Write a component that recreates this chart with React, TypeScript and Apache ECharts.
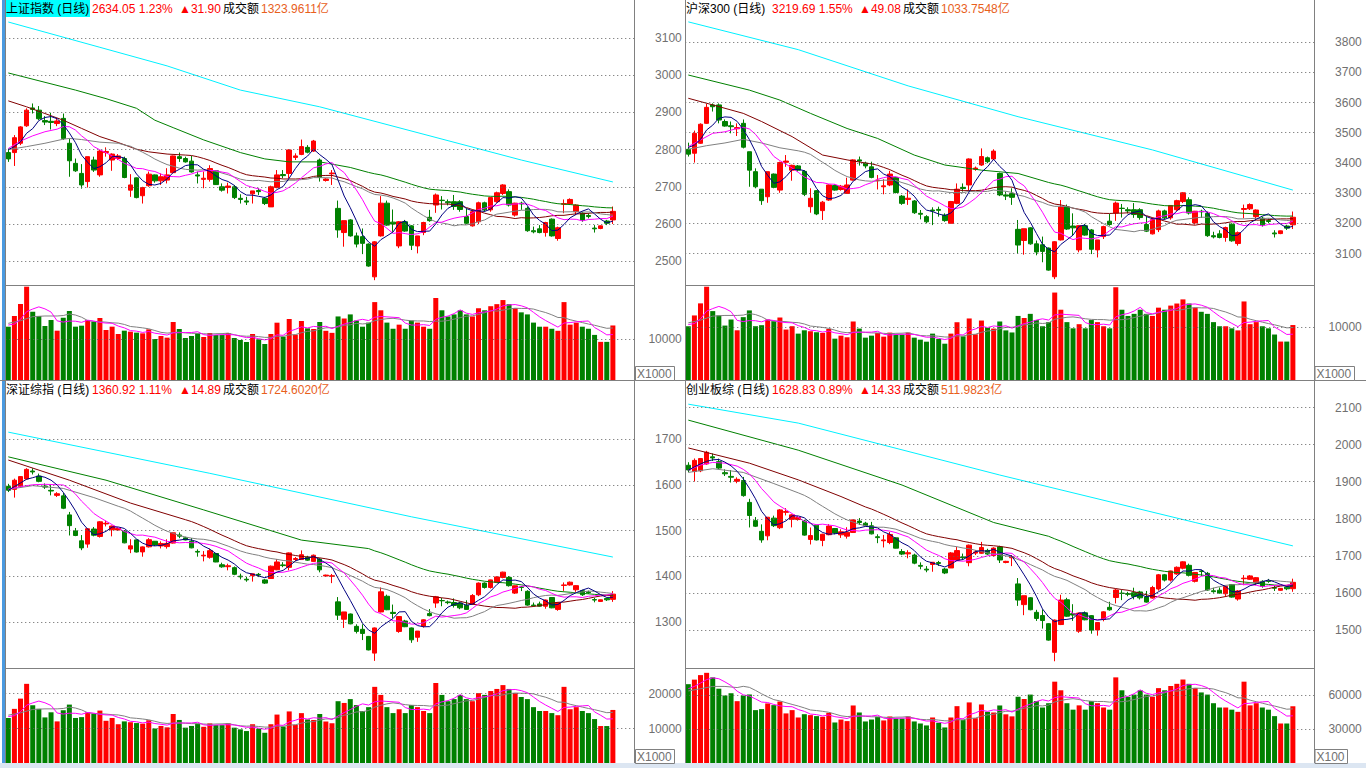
import React, { useEffect, useRef } from 'react';
import * as echarts from 'echarts';

// ---------------- 上证指数 ----------------
const shCandles: number[][] = [
  [2792, 2775, 2767, 2803], [2792, 2832, 2756, 2839], [2817, 2861, 2812, 2863], [2864, 2906, 2861, 2911],
  [2912, 2908, 2897, 2924], [2906, 2883, 2879, 2917], [2878, 2874, 2866, 2890], [2876, 2873, 2854, 2899],
  [2870, 2877, 2863, 2884], [2884, 2830, 2826, 2897], [2817, 2770, 2727, 2830], [2763, 2743, 2740, 2776],
  [2736, 2705, 2695, 2761], [2714, 2781, 2698, 2781], [2772, 2745, 2740, 2781], [2732, 2796, 2727, 2799],
  [2792, 2795, 2781, 2806], [2772, 2788, 2743, 2790], [2776, 2783, 2772, 2788], [2776, 2725, 2723, 2781],
  [2691, 2705, 2673, 2734], [2724, 2671, 2669, 2725], [2676, 2698, 2655, 2700], [2703, 2734, 2700, 2741],
  [2732, 2716, 2711, 2733], [2716, 2727, 2705, 2736], [2718, 2732, 2709, 2750], [2738, 2783, 2736, 2784],
  [2781, 2776, 2767, 2792], [2776, 2767, 2765, 2781], [2769, 2740, 2738, 2783], [2732, 2729, 2709, 2741],
  [2720, 2723, 2696, 2741], [2720, 2749, 2714, 2758], [2743, 2706, 2705, 2745], [2700, 2691, 2687, 2709],
  [2698, 2702, 2682, 2711], [2700, 2671, 2667, 2705], [2669, 2666, 2655, 2680], [2662, 2659, 2651, 2673],
  [2681, 2689, 2655, 2689], [2690, 2687, 2678, 2696], [2669, 2655, 2651, 2673], [2646, 2700, 2646, 2703],
  [2698, 2732, 2696, 2745], [2733, 2730, 2723, 2745], [2736, 2799, 2723, 2801], [2779, 2783, 2772, 2790],
  [2787, 2808, 2785, 2827], [2806, 2793, 2790, 2812], [2796, 2823, 2794, 2826], [2772, 2725, 2714, 2776],
  [2717, 2721, 2714, 2723], [2735, 2737, 2705, 2745], [2642, 2584, 2563, 2663], [2577, 2609, 2539, 2609],
  [2611, 2568, 2566, 2613], [2568, 2546, 2537, 2577], [2566, 2548, 2519, 2588], [2546, 2487, 2485, 2548],
  [2458, 2552, 2449, 2554], [2568, 2656, 2566, 2675], [2656, 2597, 2595, 2663], [2605, 2600, 2579, 2639],
  [2541, 2606, 2535, 2608], [2606, 2581, 2579, 2611], [2595, 2543, 2530, 2597], [2541, 2568, 2521, 2568],
  [2577, 2604, 2570, 2606], [2618, 2609, 2606, 2638], [2651, 2678, 2630, 2682], [2664, 2663, 2639, 2675],
  [2660, 2657, 2650, 2666], [2660, 2647, 2638, 2678], [2660, 2639, 2633, 2664], [2620, 2602, 2600, 2642],
  [2595, 2633, 2593, 2639], [2606, 2657, 2600, 2660], [2657, 2638, 2633, 2660], [2638, 2671, 2633, 2672],
  [2660, 2684, 2657, 2687], [2682, 2705, 2678, 2707], [2687, 2651, 2647, 2693], [2624, 2656, 2620, 2657],
  [2656, 2654, 2638, 2660], [2642, 2582, 2579, 2647], [2582, 2579, 2575, 2593], [2587, 2577, 2575, 2597],
  [2577, 2604, 2566, 2606], [2613, 2568, 2566, 2615], [2561, 2590, 2555, 2593], [2653, 2655, 2629, 2666],
  [2654, 2666, 2651, 2669], [2633, 2651, 2624, 2653], [2629, 2611, 2606, 2633], [2623, 2620, 2615, 2629],
  [2589, 2587, 2577, 2597], [2588, 2595, 2586, 2596], [2608, 2602, 2597, 2611], [2611, 2634, 2600, 2647],
];
const shVolume: number[] = [
  13000, 15610, 18540, 22760, 16670, 15610, 13170, 14630, 12030, 15200,
  16830, 13010, 13250, 14630, 14230, 15120, 12200, 13010, 11220, 12030,
  11790, 11550, 11380, 12360, 10000, 10730, 10330, 14150, 12440, 10240,
  10730, 11380, 10490, 11460, 10980, 10980, 11460, 10240, 9760, 9270,
  11220, 9920, 8780, 11220, 13980, 10570, 14880, 11060, 14390, 12600,
  12440, 14150, 12000, 11500, 15500, 15000, 16000, 14500, 13000, 14000,
  19000, 17000, 14000, 12500, 13500, 12500, 14500, 14000, 13000, 12500,
  20000, 17000, 15500, 16000, 17000, 16000, 15500, 17500, 17000, 18000,
  18500, 19500, 18500, 17500, 16500, 16000, 14000, 13000, 13000, 12500,
  12000, 19000, 13500, 14000, 13000, 12500, 11000, 9300, 9300, 13300,
];
const shMa5Head: number[][] = [[0, 2800], [1, 2808], [2, 2821], [3, 2844]];
const shMa10Head: number[][] = [[0, 2803], [2, 2823], [4, 2837], [6, 2848], [8, 2855]];
const shMa20Head: number[][] = [[0, 2800], [3, 2808], [6, 2817], [9, 2828], [10, 2830], [12, 2827], [15, 2820], [18, 2817]];
const shMa30Head: number[][] = [[0, 2931], [3, 2915], [6, 2897], [9, 2879], [12, 2857], [15, 2835], [18, 2819], [21, 2801], [23, 2794], [26, 2788]];
const shMa60Head: number[][] = [[0, 3006], [11, 2960], [16, 2937], [21, 2911], [24, 2879], [27, 2859], [32, 2826], [38, 2792], [42, 2775], [46, 2767], [51, 2767], [56, 2752]];
const shMa120: number[][] = [[0, 3143], [15, 3075], [26, 3025], [38, 2960], [51, 2915], [84, 2772], [99, 2713]];
const shVolMa5Head: number[][] = [[0, 13410], [1, 13660], [2, 14800], [3, 16670]];
const shVolMa10Head: number[][] = [[0, 13820], [2, 14470], [4, 15450], [6, 15610], [8, 15610]];
const shPriceTicks = [2500, 2600, 2700, 2800, 2900, 3000, 3100];
const shVolTicks = [10000];

// ---------------- 沪深300 ----------------
const hsCandles: number[][] = [
  [3445, 3429, 3421, 3467], [3432, 3498, 3401, 3507], [3465, 3528, 3463, 3531], [3531, 3584, 3529, 3595],
  [3592, 3586, 3570, 3597], [3592, 3542, 3531, 3597], [3537, 3522, 3520, 3544], [3523, 3520, 3498, 3537],
  [3513, 3517, 3489, 3531], [3531, 3452, 3448, 3544], [3437, 3376, 3321, 3437], [3371, 3321, 3316, 3382],
  [3313, 3275, 3261, 3313], [3288, 3371, 3268, 3371], [3363, 3319, 3316, 3365], [3310, 3401, 3301, 3404],
  [3402, 3406, 3387, 3426], [3376, 3392, 3341, 3394], [3390, 3376, 3371, 3393], [3372, 3296, 3290, 3376],
  [3255, 3283, 3235, 3316], [3308, 3231, 3227, 3310], [3242, 3270, 3211, 3274], [3277, 3327, 3274, 3329],
  [3325, 3310, 3308, 3329], [3312, 3323, 3308, 3327], [3299, 3327, 3297, 3351], [3343, 3410, 3341, 3412],
  [3410, 3406, 3391, 3421], [3399, 3390, 3382, 3404], [3387, 3352, 3349, 3404], [3341, 3343, 3312, 3360],
  [3321, 3324, 3296, 3346], [3327, 3363, 3323, 3374], [3352, 3302, 3299, 3354], [3290, 3266, 3261, 3294],
  [3279, 3283, 3261, 3312], [3274, 3235, 3231, 3277], [3233, 3230, 3213, 3244], [3222, 3205, 3200, 3227],
  [3244, 3241, 3194, 3253], [3246, 3243, 3222, 3255], [3227, 3209, 3205, 3233], [3200, 3272, 3200, 3274],
  [3266, 3313, 3263, 3332], [3319, 3315, 3305, 3332], [3327, 3413, 3310, 3415], [3379, 3383, 3374, 3388],
  [3393, 3421, 3390, 3448], [3417, 3404, 3399, 3421], [3413, 3439, 3410, 3445], [3365, 3294, 3290, 3368],
  [3294, 3290, 3277, 3305], [3299, 3286, 3261, 3316], [3180, 3128, 3100, 3211], [3143, 3182, 3096, 3182],
  [3185, 3132, 3129, 3187], [3132, 3105, 3094, 3143], [3129, 3107, 3071, 3156], [3118, 3045, 3043, 3120],
  [3023, 3139, 3015, 3141], [3145, 3254, 3143, 3277], [3254, 3181, 3178, 3262], [3191, 3185, 3159, 3233],
  [3112, 3192, 3104, 3194], [3192, 3161, 3159, 3198], [3178, 3114, 3098, 3181], [3112, 3145, 3087, 3145],
  [3156, 3189, 3148, 3192], [3207, 3196, 3192, 3231], [3234, 3267, 3208, 3272], [3250, 3249, 3219, 3264],
  [3245, 3241, 3233, 3253], [3245, 3229, 3218, 3267], [3245, 3219, 3212, 3250], [3196, 3174, 3171, 3223],
  [3165, 3212, 3163, 3219], [3179, 3241, 3171, 3245], [3241, 3218, 3212, 3245], [3218, 3259, 3212, 3260],
  [3245, 3275, 3241, 3278], [3272, 3301, 3267, 3303], [3278, 3234, 3229, 3286], [3201, 3240, 3196, 3241],
  [3240, 3238, 3218, 3245], [3233, 3159, 3155, 3239], [3159, 3155, 3150, 3172], [3165, 3153, 3150, 3177],
  [3153, 3186, 3139, 3189], [3197, 3142, 3139, 3200], [3133, 3169, 3126, 3173], [3246, 3249, 3217, 3262],
  [3248, 3262, 3244, 3266], [3222, 3244, 3211, 3246], [3217, 3195, 3189, 3222], [3209, 3206, 3200, 3216],
  [3168, 3165, 3153, 3177], [3166, 3175, 3164, 3176], [3191, 3184, 3178, 3195], [3195, 3220, 3181, 3239],
];
const hsVolume: number[] = [
  10140, 12180, 14460, 17600, 13000, 12180, 10270, 11410, 9380, 11860,
  13130, 10150, 10340, 11410, 11100, 11790, 9520, 10150, 8750, 9380,
  9200, 9010, 8880, 9640, 7800, 8370, 8060, 11040, 9700, 7990,
  8370, 8880, 8180, 8940, 8560, 8560, 8940, 7990, 7610, 7230,
  8750, 7740, 6850, 8750, 10900, 8240, 11610, 8630, 11220, 9830,
  9700, 11040, 9360, 8970, 12090, 11700, 12480, 11310, 10140, 10920,
  16500, 13260, 10920, 9750, 10530, 9750, 11310, 10920, 10140, 9750,
  17500, 13260, 12090, 12480, 13260, 12480, 12090, 13650, 13260, 14040,
  14430, 15210, 14430, 13650, 12870, 12480, 10920, 10140, 10140, 9750,
  9360, 14820, 10530, 10920, 10140, 9750, 8580, 7250, 7250, 10370,
];
const hsMa5Head: number[][] = [[0, 3451], [1, 3459], [2, 3478], [3, 3509]];
const hsMa10Head: number[][] = [[0, 3454], [2, 3476], [4, 3498], [6, 3503], [8, 3514]];
const hsMa20Head: number[][] = [[0, 3445], [3, 3457], [6, 3466], [9, 3478], [12, 3466], [15, 3450], [18, 3440]];
const hsMa30Head: number[][] = [[0, 3614], [4, 3592], [9, 3564], [12, 3537], [17, 3487], [22, 3426], [26, 3410]];
const hsMa60Head: number[][] = [[0, 3691], [10, 3641], [15, 3608], [20, 3564], [26, 3514], [31, 3481], [37, 3426], [42, 3393], [48, 3376], [54, 3365]];
const hsMa120: number[][] = [[0, 3867], [18, 3775], [36, 3655], [54, 3553], [76, 3443], [99, 3310]];
const hsVolMa5Head: number[][] = [[0, 10460], [1, 10650], [2, 11540], [3, 13000]];
const hsVolMa10Head: number[][] = [[0, 10780], [2, 11290], [4, 12050], [6, 12180], [8, 12180]];
const hsPriceTicks = [3100, 3200, 3300, 3400, 3500, 3600, 3700, 3800];
const hsVolTicks = [10000];

// ---------------- 深证综指 ----------------
const szCandles: number[][] = [
  [1596.5, 1588, 1584, 1602], [1589.9, 1609.9, 1571.9, 1613.4], [1595.8, 1617.8, 1593.3, 1618.8], [1612.6, 1633.6, 1611.1, 1636.1],
  [1630, 1628, 1622.5, 1636], [1618.9, 1607.4, 1605.4, 1624.4], [1596.9, 1594.9, 1590.9, 1602.9], [1587.8, 1586.3, 1576.8, 1599.3],
  [1576.8, 1580.3, 1573.3, 1583.8], [1575.7, 1548.7, 1546.7, 1582.2], [1534.1, 1510.6, 1489.1, 1540.6], [1499.1, 1489.1, 1487.6, 1505.6],
  [1477.5, 1462, 1457, 1490], [1470.3, 1503.8, 1462.3, 1503.8], [1503.2, 1489.7, 1487.2, 1507.7], [1487, 1519, 1484.5, 1520.5],
  [1514.4, 1515.9, 1508.9, 1521.4], [1501.7, 1509.7, 1487.2, 1510.7], [1501.1, 1504.6, 1499.1, 1507.1], [1498.5, 1473, 1472, 1501],
  [1459.5, 1466.5, 1450.5, 1481], [1479.5, 1453, 1452, 1480], [1453.2, 1464.2, 1442.7, 1465.2], [1464.3, 1479.8, 1462.8, 1483.3],
  [1476.5, 1468.5, 1466, 1477], [1466.2, 1471.7, 1460.7, 1476.2], [1464.8, 1471.8, 1460.3, 1480.8], [1472.5, 1495, 1471.5, 1495.5],
  [1490.2, 1487.7, 1483.2, 1495.7], [1483.9, 1479.4, 1478.4, 1486.4], [1476.6, 1462.1, 1461.1, 1483.6], [1454.3, 1452.8, 1442.8, 1458.8],
  [1444.5, 1446, 1432.5, 1455], [1441.4, 1455.9, 1438.4, 1460.4], [1449.7, 1431.2, 1430.7, 1450.7], [1425.1, 1420.6, 1418.6, 1429.6],
  [1420.9, 1422.9, 1412.9, 1427.4], [1418.8, 1404.3, 1402.3, 1421.3], [1400.2, 1398.7, 1393.2, 1405.7], [1393.5, 1392, 1388, 1399],
  [1401.3, 1405.3, 1388.3, 1405.3], [1404.2, 1402.7, 1398.2, 1407.2], [1392, 1385, 1383, 1394], [1395, 1422, 1395, 1423.5],
  [1414.2, 1431.2, 1413.2, 1437.7], [1424.8, 1423.3, 1419.8, 1430.8], [1419.5, 1451, 1413, 1452], [1436.7, 1438.7, 1433.2, 1442.2],
  [1436.5, 1447, 1435.5, 1456.5], [1441.7, 1435.2, 1433.7, 1444.7], [1432.5, 1446, 1431.5, 1447.5], [1437.5, 1414, 1408.5, 1439.5],
  [1400.5, 1402.5, 1399, 1403.5], [1400, 1401, 1385, 1405], [1344, 1315, 1304.5, 1354.5], [1306, 1322, 1287, 1322],
  [1317.5, 1296, 1295, 1318.5], [1290.5, 1279.5, 1275, 1295], [1284, 1275, 1260.5, 1295], [1268.5, 1239, 1238, 1269.5],
  [1232, 1287, 1215, 1288], [1322, 1366, 1321, 1375.5], [1356.3, 1326.8, 1325.8, 1359.8], [1321.1, 1318.6, 1308.1, 1338.1],
  [1279.4, 1311.9, 1276.4, 1312.9], [1302.2, 1289.7, 1288.7, 1304.7], [1287, 1261, 1254.5, 1288], [1266.6, 1280.1, 1256.6, 1280.1],
  [1291.3, 1304.8, 1287.8, 1305.8], [1318.4, 1313.9, 1312.4, 1328.4], [1341.5, 1355, 1331, 1357], [1346.9, 1346.4, 1334.4, 1352.4],
  [1343.8, 1342.3, 1338.8, 1346.8], [1342.6, 1336.1, 1331.6, 1351.6], [1341.5, 1331, 1328, 1343.5], [1336.5, 1327.5, 1326.5, 1347.5],
  [1339, 1358, 1338, 1361], [1359.5, 1385, 1356.5, 1386.5], [1385, 1375.5, 1373, 1386.5], [1375.5, 1392, 1373, 1392.5],
  [1386.5, 1398.5, 1385, 1400], [1397.5, 1409, 1395.5, 1410], [1397.4, 1379.4, 1377.4, 1400.4], [1363.2, 1379.2, 1361.2, 1379.7],
  [1376.6, 1375.6, 1367.6, 1378.6], [1367, 1337, 1335.5, 1369.5], [1337, 1335.5, 1333.5, 1342.5], [1339.5, 1334.5, 1333.5, 1344.5],
  [1334.5, 1348, 1329, 1349], [1353.5, 1331, 1330, 1354.5], [1327.5, 1342, 1324.5, 1343.5], [1380, 1381, 1368, 1386.5],
  [1381, 1387, 1379.5, 1388.5], [1370.5, 1379.5, 1366, 1380.5], [1368.5, 1359.5, 1357, 1370.5], [1365.5, 1364, 1361.5, 1368.5],
  [1349, 1348, 1343, 1353], [1345, 1348.5, 1344, 1349], [1351.5, 1348.5, 1346, 1353], [1349.5, 1360.9, 1344, 1367.5],
];
const szVolume: number[] = [
  13000, 15610, 18540, 22760, 16670, 15610, 13170, 14630, 12030, 15200,
  16830, 13010, 13250, 14630, 14230, 15120, 12200, 13010, 11220, 12030,
  11790, 11550, 11380, 12360, 10000, 10730, 10330, 14150, 12440, 10240,
  10730, 11380, 10490, 11460, 10980, 10980, 11460, 10240, 9760, 9270,
  11220, 9920, 8780, 11220, 13980, 10570, 14880, 11060, 14390, 12600,
  12440, 14150, 12000, 11500, 17800, 17300, 18400, 16700, 15000, 16100,
  21900, 19600, 16100, 14400, 15500, 14400, 16700, 16100, 15000, 14400,
  23000, 19600, 17800, 18400, 19600, 18400, 17800, 20100, 19600, 20700,
  21300, 22400, 21300, 20100, 19000, 18400, 16100, 15000, 15000, 14400,
  13800, 21900, 15500, 16100, 15000, 14400, 12700, 10700, 10700, 15300,
];
const szMa5Head: number[][] = [[0, 1588], [1, 1596], [2, 1604], [3, 1612]];
const szMa10Head: number[][] = [[0, 1590], [2, 1596], [4, 1600], [6, 1601], [8, 1600]];
const szMa20Head: number[][] = [[0, 1590], [4, 1598], [9, 1592], [14, 1572], [18, 1553]];
const szMa30Head: number[][] = [[0, 1654], [10, 1610], [20, 1560]];
const szMa60Head: number[][] = [[0, 1661], [16, 1610], [32, 1545], [48, 1479]];
const szMa120: number[][] = [[0, 1715], [33, 1625], [66, 1530], [99, 1442]];
const szVolMa5Head: number[][] = [[0, 13410], [1, 13660], [2, 14800], [3, 16670]];
const szVolMa10Head: number[][] = [[0, 13820], [2, 14470], [4, 15450], [6, 15610], [8, 15610]];
const szPriceTicks = [1300, 1400, 1500, 1600, 1700];
const szVolTicks = [10000, 20000];

// ---------------- 创业板综 ----------------
const cyCandles: number[][] = [
  [1944.3, 1931.5, 1925.5, 1952.5], [1927.4, 1957.4, 1900.4, 1962.7], [1929.4, 1962.4, 1925.7, 1963.9], [1947.8, 1979.3, 1945.6, 1983.1],
  [1967, 1964, 1955.8, 1976], [1954, 1936.7, 1933.7, 1962.2], [1924.3, 1921.3, 1915.3, 1933.3], [1914.3, 1912, 1897.8, 1931.5],
  [1901.2, 1906.4, 1895.9, 1911.7], [1903, 1862.5, 1859.5, 1912.8], [1844.2, 1808.9, 1776.7, 1853.9], [1795, 1780, 1777.8, 1804.8],
  [1766.3, 1743, 1735.5, 1785], [1754.1, 1804.3, 1742.1, 1804.3], [1801.8, 1781.5, 1777.8, 1808.5], [1776, 1824, 1772.3, 1826.3],
  [1817.4, 1819.6, 1809.1, 1828.6], [1798.6, 1810.6, 1776.9, 1812.1], [1798, 1803.2, 1795, 1807], [1794.3, 1756, 1754.5, 1797.3],
  [1744.3, 1754.8, 1730.8, 1776.6], [1782.8, 1743, 1741.5, 1783.5], [1741.8, 1758.3, 1726.1, 1759.8], [1757.1, 1780.3, 1755.6, 1785.6],
  [1773.8, 1761.8, 1758.1, 1774.6], [1756.8, 1765, 1748.5, 1771.8], [1753.3, 1763.8, 1746.6, 1777.3], [1763.3, 1797, 1761.8, 1797.8],
  [1793.8, 1790, 1783.3, 1802], [1788.2, 1781.4, 1779.9, 1791.9], [1781.2, 1759.4, 1757.9, 1791.7], [1751.6, 1749.3, 1734.3, 1758.3],
  [1740.8, 1743, 1722.8, 1756.5], [1736.1, 1757.8, 1731.6, 1764.6], [1748.7, 1720.9, 1720.2, 1750.2], [1711.7, 1704.9, 1701.9, 1718.4],
  [1705.5, 1708.5, 1693.5, 1715.3], [1702.3, 1680.5, 1677.5, 1706], [1674.4, 1672.1, 1663.9, 1682.6], [1664.3, 1662, 1656, 1672.5],
  [1676.8, 1682.8, 1657.3, 1682.8], [1682, 1679.7, 1673, 1686.5], [1664.5, 1654, 1651, 1667.5], [1667.5, 1708, 1667.5, 1710.3],
  [1688.8, 1714.3, 1687.3, 1724.1], [1697.3, 1695, 1689.8, 1706.3], [1681.8, 1729, 1672, 1730.5], [1707.5, 1710.5, 1702.3, 1715.8],
  [1707.1, 1722.8, 1705.6, 1737.8], [1714.8, 1705, 1702.8, 1719.3], [1700.8, 1721, 1699.3, 1723.3], [1724.3, 1689, 1680.8, 1727.3],
  [1682.3, 1685.3, 1680.1, 1686.8], [1695, 1696.5, 1672.5, 1702.5], [1624.5, 1581, 1565.3, 1640.3], [1568.7, 1592.7, 1540.2, 1592.7],
  [1587.2, 1554.9, 1553.4, 1588.7], [1547.9, 1531.4, 1524.7, 1554.7], [1539.3, 1525.8, 1504.1, 1555.8], [1517.3, 1473, 1471.5, 1518.8],
  [1440, 1527, 1416, 1528.5], [1515, 1581, 1513.5, 1595.3], [1581.8, 1537.5, 1536, 1587], [1544.3, 1540.5, 1524.8, 1569.8],
  [1497.1, 1545.8, 1492.6, 1547.3], [1546.6, 1527.8, 1526.3, 1550.3], [1539, 1500, 1490.3, 1540.5], [1500.3, 1520.5, 1485, 1520.5],
  [1529, 1549.2, 1523.7, 1550.7], [1561.4, 1554.6, 1552.4, 1576.4], [1587.8, 1608, 1572, 1611], [1599.6, 1598.8, 1580.8, 1607.8],
  [1598.7, 1596.4, 1591.2, 1603.2], [1600.8, 1591, 1582.8, 1614.3], [1602.8, 1587, 1582.5, 1605.8], [1589, 1575.5, 1574, 1605.5],
  [1586.3, 1614.8, 1584.8, 1619.3], [1610.8, 1649, 1606.3, 1651.3], [1649.1, 1634.8, 1631.1, 1651.3], [1634.8, 1659.5, 1631, 1660.3],
  [1651.3, 1669.3, 1649.1, 1671.6], [1666.8, 1684, 1663.8, 1685.5], [1674.6, 1647.6, 1644.6, 1679.1], [1631.4, 1655.4, 1628.4, 1656.2],
  [1659.4, 1657.9, 1645.9, 1662.4], [1653, 1608, 1605.8, 1656.8], [1605.9, 1603.6, 1600.6, 1614.1], [1607.5, 1600, 1598.5, 1615],
  [1597.9, 1618.1, 1589.6, 1619.6], [1622.8, 1589, 1587.5, 1624.3], [1583.8, 1605.5, 1579.3, 1607.8], [1638.5, 1640, 1621, 1648.3],
  [1637, 1646, 1635.5, 1648.3], [1627.8, 1641.3, 1621.1, 1642.8], [1631.4, 1617.9, 1614.2, 1634.4], [1633.5, 1631.2, 1627.5, 1638],
  [1614.5, 1613, 1605.5, 1620.5], [1607.3, 1612.5, 1605.8, 1613.3], [1615.8, 1611.3, 1607.6, 1618.1], [1611.6, 1628.8, 1603.3, 1638.6],
];
const cyVolume: number[] = [
  70000, 74000, 78000, 80000, 76000, 66000, 60000, 62000, 55000, 60000,
  60900, 47100, 48000, 53000, 51500, 54700, 44200, 47100, 40600, 43500,
  42700, 41800, 41200, 44700, 36200, 38800, 37400, 51200, 45000, 37100,
  38800, 41200, 38000, 41500, 39700, 39700, 41500, 37100, 35300, 33600,
  40600, 35900, 31800, 40600, 50600, 38300, 53900, 40000, 52100, 45600,
  45000, 51200, 43400, 41600, 58900, 57000, 60800, 55100, 49400, 53200,
  72200, 64600, 53200, 47500, 51300, 47500, 55100, 53200, 49400, 47500,
  76000, 64600, 58900, 60800, 64600, 60800, 58900, 66500, 64600, 68400,
  70300, 74100, 70300, 66500, 62700, 60800, 53200, 49400, 49400, 47500,
  45600, 72200, 51300, 53200, 49400, 47500, 41800, 35300, 35300, 50500,
];
const cyMa5Head: number[][] = [[0, 1931], [1, 1940], [2, 1948], [3, 1955]];
const cyMa10Head: number[][] = [[0, 1931], [2, 1945], [4, 1952], [6, 1950], [8, 1942]];
const cyMa20Head: number[][] = [[0, 1925], [4, 1935], [9, 1925], [14, 1895], [18, 1870]];
const cyMa30Head: number[][] = [[0, 1991], [10, 1950], [18, 1905], [25, 1860]];
const cyMa60Head: number[][] = [[0, 2066], [18, 1985], [35, 1891], [50, 1790]];
const cyMa120: number[][] = [[0, 2109], [18, 2058], [51, 1918], [83, 1790], [99, 1727]];
const cyVolMa5Head: number[][] = [[0, 66000], [1, 68000], [2, 71000], [3, 74000]];
const cyVolMa10Head: number[][] = [[0, 64000], [2, 66000], [4, 68000], [6, 68000], [8, 67000]];
const cyPriceTicks = [1500, 1600, 1700, 1800, 1900, 2000, 2100];
const cyVolTicks = [30000, 60000];

const titles = [
  { name: '上证指数 (日线)', quote: '2634.05 1.23%', chg: '▲31.90', amt: '1323.9611亿' },
  { name: '沪深300 (日线)', quote: '3219.69 1.55%', chg: '▲49.08', amt: '1033.7548亿' },
  { name: '深证综指 (日线)', quote: '1360.92 1.11%', chg: '▲14.89', amt: '1724.6020亿' },
  { name: '创业板综 (日线)', quote: '1628.83 0.89%', chg: '▲14.33', amt: '511.9823亿' },
];
const unitLabels = ['X1000', 'X1000', 'X1000', 'X100'];

const SLOTS = 103;
const CATS = Array.from({ length: SLOTS }, (_, i) => String(i + 1));

const UP = '#ff0000';
const DOWN = '#008000';
const NUM_FONT = "'Liberation Sans', Arial, 'DejaVu Sans', sans-serif";
const CJK_FONT = "'Liberation Sans', 'Noto Sans CJK SC', sans-serif";

function movingAvg(vals: number[], n: number, head: number[][]) {
  const out: (number | null)[] = vals.map(() => null);
  head.forEach(([i, v]) => { if (i < n - 1) out[i] = v; });
  for (let i = n - 1; i < vals.length; i++) {
    let s = 0;
    for (let k = i - n + 1; k <= i; k++) s += vals[k];
    out[i] = Math.round((s / n) * 100) / 100;
  }
  return out;
}
function sparse(pairs: number[][], len: number) {
  const out: (number | null)[] = Array(len).fill(null);
  pairs.forEach(([i, v]) => { out[i] = v; });
  return out;
}

const panelData = [
  { c: shCandles, v: shVolume, m5: shMa5Head, m10: shMa10Head, m20: shMa20Head, m30: shMa30Head, m60: shMa60Head, m120: shMa120, vm5: shVolMa5Head, vm10: shVolMa10Head, pt: shPriceTicks, vt: shVolTicks },
  { c: hsCandles, v: hsVolume, m5: hsMa5Head, m10: hsMa10Head, m20: hsMa20Head, m30: hsMa30Head, m60: hsMa60Head, m120: hsMa120, vm5: hsVolMa5Head, vm10: hsVolMa10Head, pt: hsPriceTicks, vt: hsVolTicks },
  { c: szCandles, v: szVolume, m5: szMa5Head, m10: szMa10Head, m20: szMa20Head, m30: szMa30Head, m60: szMa60Head, m120: szMa120, vm5: szVolMa5Head, vm10: szVolMa10Head, pt: szPriceTicks, vt: szVolTicks },
  { c: cyCandles, v: cyVolume, m5: cyMa5Head, m10: cyMa10Head, m20: cyMa20Head, m30: cyMa30Head, m60: cyMa60Head, m120: cyMa120, vm5: cyVolMa5Head, vm10: cyVolMa10Head, pt: cyPriceTicks, vt: cyVolTicks },
];

const layout = [
  { left: 5.25, kTop: 0.8, kH: 297.6, kMin: 2400, kMax: 3200, kInt: 100, vTop: 286, vH: 94, vMax: 22927, vInt: 10000, tx: 0, ty: 0 },
  { left: 685.25, kTop: 11.9, kH: 271.8, kMin: 3000, kMax: 3900, kInt: 100, vTop: 286, vH: 94, vMax: 17736, vInt: 10000, tx: 680, ty: 0 },
  { left: 5.25, kTop: 393.25, kH: 274.5, kMin: 1200, kMax: 1800, kInt: 100, vTop: 669, vH: 94.5, vMax: 27000, vInt: 10000, tx: 0, ty: 381 },
  { left: 685.25, kTop: 370.4, kH: 296.8, kMin: 1400, kMax: 2200, kInt: 100, vTop: 669, vH: 94.5, vMax: 83382, vInt: 30000, tx: 680, ty: 381 },
];
const GRID_W = 629;

function dotted(values: number[]) {
  return {
    silent: true,
    symbol: ['none', 'none'],
    label: { show: false },
    lineStyle: { type: [1, 3], color: '#606060', width: 1 },
    data: values.map((v) => ({ yAxis: v })),
  };
}

function buildOption() {
  const grid: any[] = [];
  const xAxis: any[] = [];
  const yAxis: any[] = [];
  const series: any[] = [];
  const graphic: any[] = [];

  panelData.forEach((p, pi) => {
    const L = layout[pi];
    const kIdx = pi * 2;
    const vIdx = pi * 2 + 1;
    grid.push({ left: L.left, top: L.kTop, width: GRID_W, height: L.kH });
    grid.push({ left: L.left, top: L.vTop, width: GRID_W, height: L.vH });
    [kIdx, vIdx].forEach((gi) => {
      xAxis.push({ type: 'category', gridIndex: gi, data: CATS, boundaryGap: true, show: false });
    });
    const axisLabel = (ticks: number[]) => ({
      show: true,
      align: 'right',
      margin: 47.5,
      color: '#707070',
      fontSize: 12,
      fontFamily: NUM_FONT,
      formatter: (v: number) => (ticks.indexOf(v) >= 0 ? String(v) : ''),
    });
    yAxis.push({
      type: 'value', gridIndex: kIdx, position: 'right', min: L.kMin, max: L.kMax, interval: L.kInt,
      axisLine: { show: false }, axisTick: { show: false }, splitLine: { show: false }, axisLabel: axisLabel(p.pt),
    });
    yAxis.push({
      type: 'value', gridIndex: vIdx, position: 'right', min: 0, max: L.vMax, interval: L.vInt,
      axisLine: { show: false }, axisTick: { show: false }, splitLine: { show: false }, axisLabel: axisLabel(p.vt),
    });

    const closes = p.c.map((d) => d[1]);
    const n = p.c.length;
    series.push({
      type: 'candlestick', xAxisIndex: kIdx, yAxisIndex: kIdx, data: p.c, barWidth: 5,
      itemStyle: { color: UP, color0: DOWN, borderColor: UP, borderColor0: DOWN, borderWidth: 1 },
      markLine: dotted(p.pt), z: 2,
    });
    const line = (data: any[], color: string, xi: number, z = 3) => ({
      type: 'line', xAxisIndex: xi, yAxisIndex: xi, data, showSymbol: false, symbol: 'none', connectNulls: true,
      lineStyle: { color, width: 1 }, silent: true, z,
    });
    series.push(line(sparse(p.m120, n), '#00f0ff', kIdx));
    series.push(line(movingAvg(closes, 60, p.m60), '#008000', kIdx));
    series.push(line(movingAvg(closes, 30, p.m30), '#800000', kIdx));
    series.push(line(movingAvg(closes, 20, p.m20), '#808080', kIdx));
    series.push(line(movingAvg(closes, 10, p.m10), '#ff00ff', kIdx));
    series.push(line(movingAvg(closes, 5, p.m5), '#000080', kIdx));
    series.push({
      type: 'bar', xAxisIndex: vIdx, yAxisIndex: vIdx, barWidth: 5,
      data: p.v.map((v, i) => ({ value: v, itemStyle: { color: p.c[i][1] >= p.c[i][0] ? UP : DOWN } })),
      markLine: dotted(p.vt), z: 2,
    });
    series.push(line(movingAvg(p.v, 10, p.vm10), '#808080', vIdx));
    series.push(line(movingAvg(p.v, 5, p.vm5), '#ff00ff', vIdx));

    const t = titles[pi];
    const ty = L.ty + 9;
    const tx = L.tx;
    if (pi === 0) graphic.push({ type: 'rect', shape: { x: 5, y: 0, width: 85, height: 17 }, style: { fill: '#00ffff' }, z: 10 });
    const txt = (x: number, s: string, color: string, font = NUM_FONT) => ({
      type: 'text', x, y: ty, z: 11,
      style: { text: s, fill: color, font: `12px ${font}`, textVerticalAlign: 'middle', verticalAlign: 'middle' },
    });
    graphic.push(txt(tx + 6, t.name, '#000000', CJK_FONT));
    graphic.push(txt(tx + 92, t.quote, '#ff0000'));
    graphic.push(txt(tx + 179, t.chg, '#ff0000'));
    graphic.push(txt(tx + 223, '成交额', '#000000', CJK_FONT));
    graphic.push(txt(tx + 261, t.amt, '#e8601c', CJK_FONT));
  });

  const G = '#808080';
  const ln = (x1: number, y1: number, x2: number, y2: number, color = G, w = 1) => ({
    type: 'line', shape: { x1, y1, x2, y2 }, style: { stroke: color, lineWidth: w }, z: 20, silent: true,
  });
  graphic.push({ type: 'rect', shape: { x: 2, y: 0, width: 3, height: 763 }, style: { fill: '#4a9ae0' }, z: 20 });
  graphic.push(ln(5.5, 0, 5.5, 763));
  graphic.push(ln(634.5, 0, 634.5, 763));
  graphic.push(ln(685.5, 0, 685.5, 763));
  graphic.push(ln(1314.5, 0, 1314.5, 763));
  graphic.push(ln(5, 285.5, 634.5, 285.5));
  graphic.push(ln(685.5, 285.5, 1314.5, 285.5));
  graphic.push(ln(0, 380.5, 1366, 380.5));
  graphic.push(ln(5, 668.5, 634.5, 668.5));
  graphic.push(ln(685.5, 668.5, 1314.5, 668.5));
  graphic.push({ type: 'rect', shape: { x: 0, y: 763, width: 1366, height: 5 }, style: { fill: '#dce6f2' }, z: 20 });
  const boxes = [
    { x: 635, y: 366, w: 39, h: 14 },
    { x: 1314.5, y: 366, w: 39.5, h: 14 },
    { x: 635, y: 749, w: 39, h: 14 },
    { x: 1314.5, y: 749, w: 32.5, h: 14 },
  ];
  boxes.forEach((b, i) => {
    graphic.push({ type: 'rect', shape: { x: b.x + 0.5, y: b.y + 0.5, width: b.w, height: b.h }, style: { fill: '#ffffff', stroke: G, lineWidth: 1 }, z: 21 });
    graphic.push({ type: 'text', x: b.x + 2, y: b.y + 8, z: 22, style: { text: unitLabels[i], fill: '#707070', font: `12px ${NUM_FONT}`, verticalAlign: 'middle' } });
  });

  return { animation: false, backgroundColor: '#ffffff', grid, xAxis, yAxis, series, graphic };
}

export default function App() {
  const ref = useRef<HTMLDivElement>(null);
  useEffect(() => {
    if (!ref.current) return;
    const chart = echarts.init(ref.current, undefined, { renderer: 'svg' });
    chart.setOption(buildOption() as any);
    return () => chart.dispose();
  }, []);
  return <div ref={ref} style={{ position: 'fixed', left: 0, top: 0, width: 1366, height: 768, background: '#fff' }} />;
}
